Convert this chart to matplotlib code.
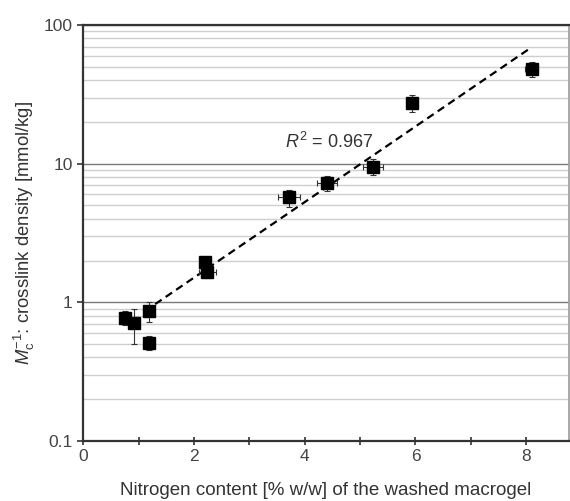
import matplotlib
matplotlib.use('Agg')
import matplotlib.pyplot as plt
import matplotlib.ticker as ticker
import numpy as np

plt.rcParams['font.family'] = ['Liberation Sans', 'DejaVu Sans']
plt.rcParams['mathtext.fontset'] = 'custom'
plt.rcParams['mathtext.rm'] = 'Liberation Sans'
plt.rcParams['mathtext.it'] = 'Liberation Sans:italic'

# Data
nitrogen = [0.76, 0.92, 1.18, 1.18, 2.20, 2.24, 3.72, 4.40, 5.23, 5.94, 8.10]
crosslink = [0.77, 0.71, 0.86, 0.51, 1.94, 1.65, 5.7, 7.2, 9.5, 27.5, 48.0]
yerr_low = [0.09, 0.21, 0.14, 0.06, 0.12, 0.15, 0.8, 0.9, 1.2, 4.0, 6.0]
yerr_high = [0.09, 0.18, 0.14, 0.06, 0.12, 0.15, 0.8, 0.9, 1.3, 4.0, 6.0]
xerr = [0.05, 0.05, 0.04, 0.04, 0.06, 0.15, 0.20, 0.18, 0.18, 0.05, 0.12]

fit_x = [1.30, 8.07]
fit_y = [0.97, 68.0]
r2_label = '$R^2$ = 0.967'

fig = plt.figure(figsize=(5.7, 5.01), dpi=100)
ax = fig.add_axes([0.146, 0.12, 0.852, 0.83])

ax.set_yscale('log')
ax.set_ylim(0.1, 100)
ax.set_xlim(0, 8.77)

# grid
ax.yaxis.set_minor_locator(ticker.LogLocator(base=10, subs=np.arange(2, 10)))
ax.yaxis.set_minor_formatter(ticker.NullFormatter())
ax.grid(which='minor', axis='y', color='#cfcfcf', linewidth=1.0)
ax.grid(which='major', axis='y', color='#7a7a7a', linewidth=1.0)
ax.set_axisbelow(True)

ax.errorbar(nitrogen, crosslink, yerr=[yerr_low, yerr_high], xerr=xerr,
            fmt='s', color='black', ms=8, ecolor='#333333', elinewidth=0.8,
            capsize=2.5, capthick=0.8, zorder=3)

ax.plot(fit_x, fit_y, linestyle=(0, (3.5, 2.2)), color='black', linewidth=1.6, zorder=2)

ax.text(3.65, 14.4, r2_label, fontsize=13, va='center', ha='left', color='#333333')

ax.yaxis.set_major_formatter(ticker.FuncFormatter(lambda v, p: f'{v:g}'))
ax.xaxis.set_major_locator(ticker.MultipleLocator(2))
ax.xaxis.set_minor_locator(ticker.MultipleLocator(1))

ax.tick_params(axis='x', which='both', direction='inout', length=6, width=1.2,
               labelsize=12.5, colors='#333333', labelcolor='#444444', pad=3)
ax.tick_params(axis='y', which='major', direction='out', length=4, width=1.2,
               labelsize=12.5, colors='#333333', labelcolor='#444444')
ax.tick_params(axis='y', which='minor', length=0)

for side in ['left', 'bottom', 'top']:
    ax.spines[side].set_color('#333333')
    ax.spines[side].set_linewidth(1.6)
ax.spines['right'].set_color('#999999')
ax.spines['right'].set_linewidth(1.2)

ax.set_xlabel('Nitrogen content [% w/w] of the washed macrogel', fontsize=13.5,
              color='#333333', labelpad=13)
ax.set_ylabel(r'$\mathit{M}_\mathrm{c}^{-1}$: crosslink density [mmol/kg]', fontsize=13.3,
              color='#333333', labelpad=5)

plt.savefig('out.png', dpi=100)
